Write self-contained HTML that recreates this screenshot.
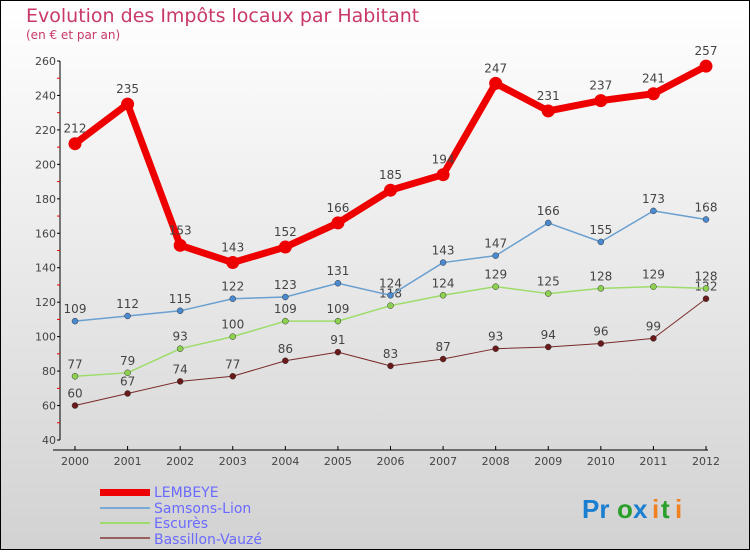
<!DOCTYPE html>
<html><head><meta charset="utf-8"><style>
html,body{margin:0;padding:0}
body{width:750px;height:550px;overflow:hidden;font-family:"DejaVu Sans","Liberation Sans",sans-serif}
</style></head><body>
<svg id="c" width="750" height="550" xmlns="http://www.w3.org/2000/svg">
<defs><linearGradient id="bg" x1="0" y1="0" x2="0" y2="1"><stop offset="0" stop-color="#ffffff"/><stop offset="1" stop-color="#d2d2d2"/></linearGradient></defs>
<rect x="0.5" y="0.5" width="749" height="549" fill="url(#bg)" stroke="#000"/>
<text x="26" y="22" font-size="19" fill="#c8386a">Evolution des Impôts locaux par Habitant</text>
<text x="26" y="39" font-size="12" fill="#c8386a">(en € et par an)</text>
<g id="axes"></g><g id="series"></g>
<g font-size="14" fill="#6a6aff">
<rect x="100" y="489" width="50" height="7" fill="#ee0000"/>
<text x="154" y="497">LEMBEYE</text>
<rect x="100" y="507" width="50" height="2" fill="#7aaad8"/>
<text x="154" y="513">Samsons-Lion</text>
<rect x="100" y="522" width="50" height="2" fill="#9ddc6a"/>
<text x="154" y="528">Escurès</text>
<rect x="100" y="537" width="50" height="2" fill="#9a6060"/>
<text x="154" y="544">Bassillon-Vauzé</text>
</g>
<g font-size="26" font-weight="bold" font-family="Liberation Sans, sans-serif">
<text x="582" y="518" fill="#1a7fd0">Pr</text><text x="617" y="518" fill="#2aa02a">o</text><text x="633" y="518" fill="#1a7fd0">x</text><text x="652" y="518" fill="#f08020">i</text><text x="661" y="518" fill="#2aa02a">t</text><text x="675" y="518" fill="#f08020">i</text>
</g>
</svg>
<script>
const years=[2000,2001,2002,2003,2004,2005,2006,2007,2008,2009,2010,2011,2012];
const yTicks=[40,60,80,100,120,140,160,180,200,220,240,260];
const lembeye=[212,235,153,143,152,166,185,194,247,231,237,241,257];
const samsons=[109,112,115,122,123,131,124,143,147,166,155,173,168];
const escures=[77,79,93,100,109,109,118,124,129,125,128,129,128];
const bassillon=[60,67,74,77,86,91,83,87,93,94,96,99,122];
const NS="http://www.w3.org/2000/svg";
const X=i=>75+i*(706-75)/(years.length-1);
const Y=v=>440-(v-40)*(440-61)/220;
function mk(t,a,p){const e=document.createElementNS(NS,t);for(const k in a)e.setAttribute(k,a[k]);p.appendChild(e);return e;}
const ax=document.getElementById('axes');
let e=mk('line',{x1:60,y1:61,x2:60,y2:440,stroke:'#000'},ax);


e=mk('line',{x1:53,y1:450,x2:708,y2:450,stroke:'#000'},ax);


yTicks.forEach((v,i)=>{mk('line',{x1:57,y1:Y(v),x2:60,y2:Y(v),stroke:'#000'},ax);
 if(i<yTicks.length-1)mk('line',{x1:57,y1:Y(v+10),x2:60,y2:Y(v+10),stroke:'#e00'},ax);
 const t=mk('text',{x:56,y:Y(v)+4,'font-size':11,fill:'#444','text-anchor':'end'},ax);t.textContent=v;
 
 });
years.forEach((y,i)=>{mk('line',{x1:X(i),y1:446,x2:X(i),y2:450,stroke:'#000'},ax);
 const t=mk('text',{x:X(i),y:465,'font-size':11,fill:'#444','text-anchor':'middle'},ax);t.textContent=y;
 
 });
const sg=document.getElementById('series');
function draw(d,name,col,w,r,dot,lbl){
 const p=mk('polyline',{points:d.map((v,i)=>X(i)+','+Y(v)).join(' '),fill:'none',stroke:col,'stroke-width':w,'stroke-linejoin':'round'},sg);
 
 
 d.forEach((v,i)=>{const c=mk('circle',{cx:X(i),cy:Y(v),r:r,fill:dot,stroke:w>3?'none':'#333','stroke-width':0.5},sg);
  
  
  const t=mk('text',{x:X(i),y:Y(v)-lbl,'font-size':12,fill:'#444','text-anchor':'middle'},sg);t.textContent=v;
  
  });
}
draw(bassillon,'bassillon-vauze','#7a2a2a',1,3,'#6a1a1a',8);
draw(escures,'escures','#9ddc6a',1.5,3,'#8ed050',8);
draw(samsons,'samsons-lion','#6aa0d0',1.5,3,'#4a8ad0',8);
draw(lembeye,'lembeye','#ee0000',7,6.5,'#ee0000',11);
</script>
</body></html>
